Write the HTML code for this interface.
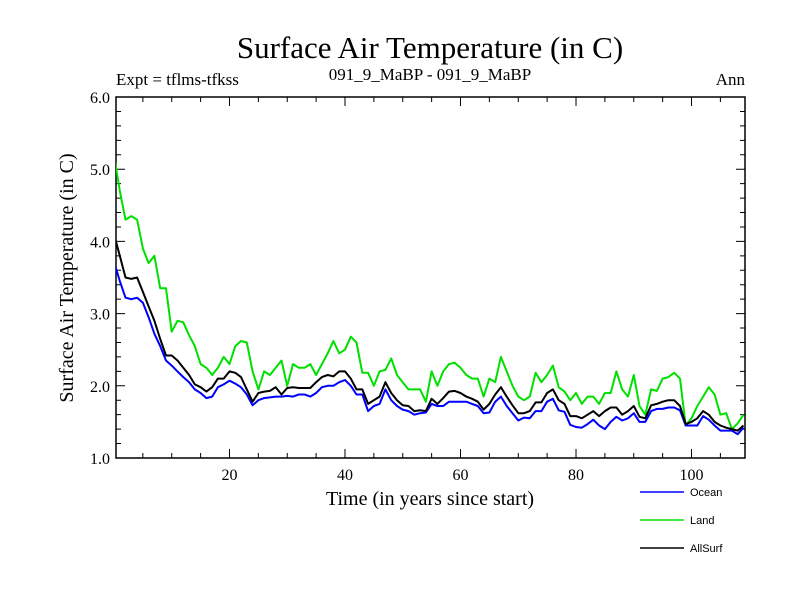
<!DOCTYPE html>
<html><head><meta charset="utf-8"><style>
body{margin:0;background:#fff;}
svg{display:block;}
text{font-family:"Liberation Serif",serif;fill:#000;}
</style></head><body>
<svg id="chart" width="800" height="600">
<defs><clipPath id="plotclip"><rect x="116" y="97" width="629" height="361"/></clipPath></defs>
<text x="430" y="58" font-size="31" text-anchor="middle">Surface Air Temperature (in C)</text>
<text x="116" y="85" font-size="17">Expt = tflms-tfkss</text>
<text x="430" y="80" font-size="17" text-anchor="middle">091_9_MaBP - 091_9_MaBP</text>
<text x="745" y="85" font-size="17" text-anchor="end">Ann</text>
<text x="430" y="505" font-size="20" text-anchor="middle">Time (in years since start)</text>
<text transform="translate(73,278) rotate(-90)" font-size="20" text-anchor="middle">Surface Air Temperature (in C)</text>
<g id="axes"></g>
<g id="series" clip-path="url(#plotclip)"></g>
<g id="legend"></g>
</svg>
<script>
const yTicks=[1.0,2.0,3.0,4.0,5.0,6.0];
const xTicks=[20,40,60,80,100];
const ocean=[3.72,3.45,3.22,3.2,3.22,3.15,2.95,2.72,2.55,2.35,2.28,2.2,2.12,2.05,1.95,1.9,1.83,1.85,1.98,2.02,2.07,2.03,1.98,1.88,1.73,1.8,1.83,1.84,1.85,1.85,1.86,1.85,1.88,1.88,1.85,1.9,1.98,2.0,2.0,2.05,2.08,2.0,1.88,1.88,1.65,1.72,1.75,1.95,1.8,1.72,1.67,1.65,1.6,1.62,1.63,1.75,1.72,1.72,1.78,1.78,1.78,1.78,1.75,1.72,1.62,1.63,1.78,1.85,1.72,1.62,1.52,1.56,1.55,1.65,1.65,1.78,1.82,1.66,1.64,1.46,1.43,1.42,1.47,1.53,1.45,1.4,1.5,1.57,1.52,1.55,1.62,1.5,1.5,1.65,1.68,1.68,1.7,1.7,1.66,1.45,1.45,1.45,1.58,1.53,1.45,1.38,1.38,1.38,1.33,1.42];
const land=[5.2,4.7,4.3,4.35,4.3,3.9,3.7,3.8,3.35,3.35,2.75,2.9,2.88,2.7,2.55,2.3,2.25,2.15,2.25,2.4,2.3,2.55,2.62,2.6,2.2,1.95,2.2,2.15,2.25,2.35,2.0,2.3,2.25,2.25,2.3,2.15,2.3,2.45,2.62,2.45,2.5,2.68,2.6,2.18,2.18,2.0,2.2,2.22,2.38,2.15,2.05,1.95,1.95,1.95,1.78,2.2,2.0,2.2,2.3,2.32,2.25,2.15,2.1,2.1,1.85,2.1,2.05,2.4,2.2,2.0,1.85,1.8,1.85,2.18,2.05,2.15,2.28,1.98,1.92,1.8,1.9,1.75,1.85,1.85,1.75,1.9,1.9,2.2,1.95,1.85,2.15,1.72,1.6,1.95,1.93,2.1,2.12,2.18,2.1,1.45,1.55,1.72,1.85,1.98,1.88,1.6,1.62,1.4,1.48,1.6];
const allSurf=[4.1,3.8,3.5,3.48,3.5,3.3,3.1,2.9,2.65,2.42,2.42,2.35,2.25,2.15,2.02,1.98,1.92,1.98,2.1,2.1,2.2,2.18,2.12,1.95,1.78,1.9,1.92,1.93,1.98,1.88,1.97,1.98,1.97,1.97,1.97,2.05,2.12,2.15,2.13,2.2,2.2,2.1,1.95,1.95,1.75,1.8,1.85,2.05,1.9,1.8,1.73,1.72,1.65,1.66,1.65,1.82,1.75,1.83,1.92,1.93,1.9,1.85,1.82,1.78,1.67,1.75,1.88,1.98,1.85,1.73,1.62,1.62,1.65,1.77,1.77,1.9,1.95,1.8,1.75,1.58,1.58,1.55,1.6,1.65,1.58,1.65,1.7,1.7,1.6,1.65,1.72,1.57,1.55,1.73,1.75,1.78,1.8,1.8,1.72,1.47,1.5,1.55,1.65,1.6,1.5,1.45,1.42,1.4,1.38,1.45];
const L=116,R=745,T=97,B=458,X0=0.35,X1=109.26,Y0=1,Y1=6;
const sx=v=>L+(v-X0)/(X1-X0)*(R-L);
const sy=v=>B-(v-Y0)/(Y1-Y0)*(B-T);
const NS="http://www.w3.org/2000/svg";
function mk(tag,attrs,parent){const e=document.createElementNS(NS,tag);for(const k in attrs)e.setAttribute(k,attrs[k]);parent.appendChild(e);return e;}
const axes=document.getElementById('axes');
const frame=mk('rect',{x:L,y:T,width:R-L,height:B-T,fill:'none',stroke:'#000','stroke-width':1.5},axes);


let td='';
for(let v=Y0;v<=Y1+1e-9;v+=0.2){const y=sy(v);const major=Math.abs(v-Math.round(v))<1e-6;const len=major?9:5;td+=`M${L},${y}h${len}M${R},${y}h${-len}`;}
for(let v=5;v<X1;v+=5){const x=sx(v);const len=(v%20===0)?9:5;td+=`M${x},${B}v${-len}M${x},${T}v${len}`;}
const ticks=mk('path',{d:td,stroke:'#000','stroke-width':1,fill:'none'},axes);


yTicks.forEach(v=>{const t=mk('text',{x:L-6,y:sy(v)+6,'font-size':16,'text-anchor':'end'},axes);t.textContent=v.toFixed(1);

});
xTicks.forEach(v=>{const t=mk('text',{x:sx(v),y:B+22,'font-size':16,'text-anchor':'middle'},axes);t.textContent=v;

});
const ser=document.getElementById('series');
function line(data,color,name){const d=data.map((v,i)=>(i?'L':'M')+sx(i).toFixed(1)+','+sy(v).toFixed(1)).join('');
const p=mk('path',{d:d,stroke:color,'stroke-width':2,fill:'none','stroke-linejoin':'round'},ser);

}
line(land,'#00e000','land-line');
line(ocean,'#0000ff','ocean-line');
line(allSurf,'#000000','allsurf-line');
const leg=document.getElementById('legend');
[['Ocean','#0000ff',492],['Land','#00e000',520],['AllSurf','#000',548]].forEach(([n,c,y])=>{
const g=mk('g',{},leg);


mk('line',{x1:640,x2:684,y1:y,y2:y,stroke:c,'stroke-width':1.5},g);
const t=mk('text',{x:690,y:y+4,'font-size':11},g);t.style.fontFamily='"Liberation Sans",sans-serif';t.textContent=n;});
</script>
</body></html>
